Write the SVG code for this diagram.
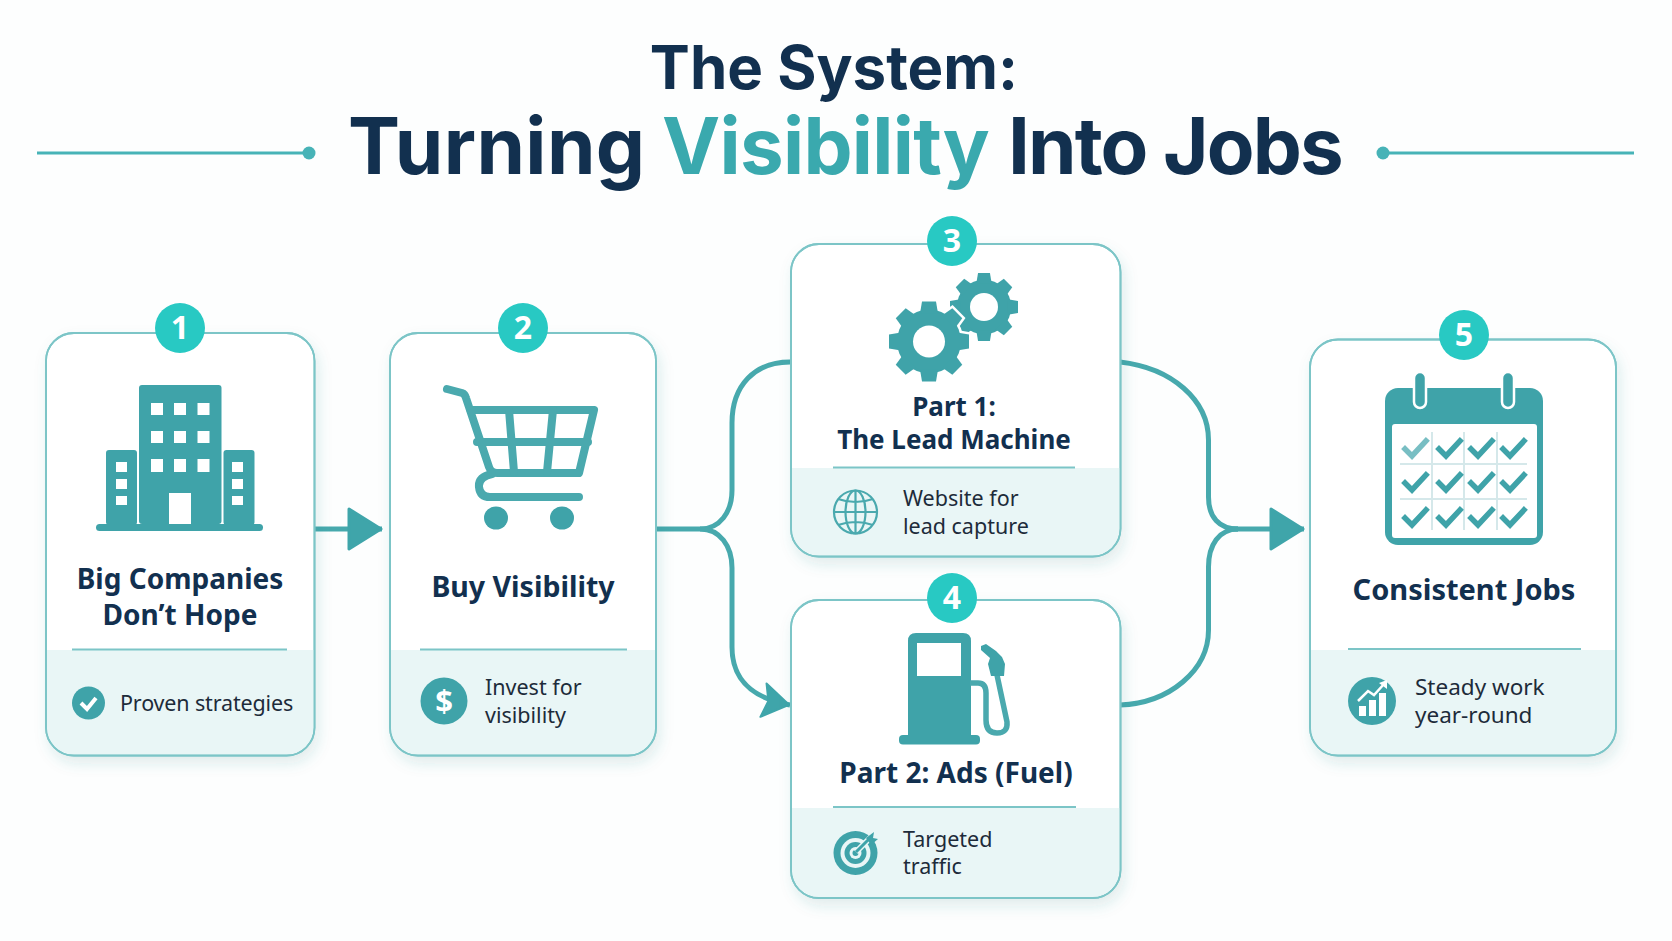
<svg xmlns="http://www.w3.org/2000/svg" width="1672" height="941" viewBox="0 0 1672 941">
<style>
.card{fill:#fff;stroke:#7cc5c7;stroke-width:1.8}
.panel{fill:#e9f6f6}
.div{stroke:#7cc5c7;stroke-width:2}
.badge{fill:#28c9c3}
.num{font:700 32px "Noto Sans",sans-serif;fill:#fff;text-anchor:middle}
.title{font:700 28px "Noto Sans",sans-serif;fill:#12304f;text-anchor:middle}
.sub{font:400 21.5px "Noto Sans",sans-serif;fill:#1d2b3a}
.head{font:700 78px Inter,sans-serif;fill:#12304f}
.ic{fill:#3fa3a9}
.w{fill:#fff}
.conn{fill:none;stroke:#47a9ad;stroke-width:5}
.rule{stroke:#47b3b7;stroke-width:3}
.cart{fill:none;stroke:#4aa9ae;stroke-width:8;stroke-linecap:round;stroke-linejoin:round}
.gl{fill:none;stroke:#4aa9ae;stroke-width:2.2}
.grid{stroke:#d5e8ea;stroke-width:2}
</style>
<defs>
<filter id="sh" x="-15%" y="-15%" width="130%" height="130%"><feDropShadow dx="3" dy="7" stdDeviation="7" flood-color="#2d7f85" flood-opacity=".14"/></filter>
<marker id="ah" markerUnits="userSpaceOnUse" markerWidth="38" markerHeight="46" viewBox="0 0 38 46" refX="36" refY="23" orient="auto"><path d="M3 3 L35 23 L3 43Z" fill="#3fa5aa" stroke="#3fa5aa" stroke-width="3" stroke-linejoin="round"/></marker>
<marker id="ahs" markerUnits="userSpaceOnUse" markerWidth="32" markerHeight="40" viewBox="0 0 32 40" refX="30" refY="20" orient="auto"><path d="M3 3 L29 20 L3 37 L8 20Z" fill="#3fa5aa" stroke="#3fa5aa" stroke-width="2" stroke-linejoin="round"/></marker>
<g id="teeth"><circle r="32"/><path d="M-9 -28 L-7 -40 H7 L9 -28Z"/><path d="M-9 -28 L-7 -40 H7 L9 -28Z" transform="rotate(45)"/><path d="M-9 -28 L-7 -40 H7 L9 -28Z" transform="rotate(90)"/><path d="M-9 -28 L-7 -40 H7 L9 -28Z" transform="rotate(135)"/><path d="M-9 -28 L-7 -40 H7 L9 -28Z" transform="rotate(180)"/><path d="M-9 -28 L-7 -40 H7 L9 -28Z" transform="rotate(225)"/><path d="M-9 -28 L-7 -40 H7 L9 -28Z" transform="rotate(270)"/><path d="M-9 -28 L-7 -40 H7 L9 -28Z" transform="rotate(315)"/></g>
<path id="chk" d="M-10 0 L-3 7 L11 -8" fill="none" stroke="#3fa3a9" stroke-width="5.5" stroke-linecap="square"/>
</defs>
<rect width="1672" height="941" fill="#fdfefe"/>

<g id="title">
<text class="head" y="89" x="834" text-anchor="middle" style="font-size:60px">The System:</text>
<text class="head" y="174"><tspan x="348" letter-spacing=".4">Turning</tspan> <tspan x="662" fill="#3aa9ae" letter-spacing="-.7">Visibility</tspan> <tspan x="1008" letter-spacing="-1.9">Into Jobs</tspan></text>
<line class="rule" x1="37" y1="153" x2="309" y2="153"/><circle cx="309" cy="153" r="6.5" fill="#47b3b7"/>
<line class="rule" x1="1383" y1="153" x2="1634" y2="153"/><circle cx="1383" cy="153" r="6.5" fill="#47b3b7"/>
</g>

<g id="connectors">
<path class="conn" d="M314 529 H382" marker-end="url(#ah)"/>
<path class="conn" d="M656 529 H700 C720 529 732 512 732 490 V423 C732 385 755 362 790 362"/>
<path class="conn" d="M700 529 C720 529 732 546 732 568 V647 C732 680 752 698 790 705" marker-end="url(#ahs)"/>
<path class="conn" d="M1120 362 C1172 368 1208.500 400 1208.500 440 V497 C1208.500 517 1219 529 1238 529"/>
<path class="conn" d="M1120 705 C1170 703 1208.500 670 1208.500 630 V567 C1208.500 545 1219 529 1238 529"/>
<path class="conn" d="M1233 529 H1304" marker-end="url(#ah)"/>
</g>

<g id="node1">
<rect class="card" x="46" y="333" width="268.500" height="422.500" rx="28" filter="url(#sh)"/>
<path class="panel" d="M47 650 H313.500 V727 A27 27 0 0 1 286.500 754.500 H74 A27 27 0 0 1 47 727Z"/>
<rect class="card" style="fill:none" x="46" y="333" width="268.500" height="422.500" rx="28"/>
<line class="div" x1="72" y1="649.500" x2="287" y2="649.500"/>
<circle class="badge" cx="180" cy="328" r="25"/><text class="num" x="180" y="339">1</text>
<g class="ic">
<rect x="139" y="385" width="82.500" height="139" rx="3"/><rect x="106" y="450" width="31" height="75" rx="3"/><rect x="223.500" y="450" width="31" height="75" rx="3"/><rect x="96" y="524" width="167" height="7" rx="3.500"/>
</g>
<g class="w">
<rect x="151" y="403" width="12" height="12"/><rect x="174" y="403" width="12" height="12"/><rect x="197.500" y="403" width="12" height="12"/>
<rect x="151" y="431" width="12" height="12"/><rect x="174" y="431" width="12" height="12"/><rect x="197.500" y="431" width="12" height="12"/>
<rect x="151" y="459" width="12" height="13"/><rect x="174" y="459" width="12" height="13"/><rect x="197.500" y="459" width="12" height="13"/>
<rect x="169" y="493" width="22" height="31"/>
<rect x="116" y="462" width="11" height="10"/><rect x="116" y="479" width="11" height="10"/><rect x="116" y="496" width="11" height="9"/>
<rect x="232" y="462" width="11" height="10"/><rect x="232" y="479" width="11" height="10"/><rect x="232" y="496" width="11" height="9"/>
</g>
<text class="title"><tspan x="180" y="589">Big Companies</tspan><tspan x="180" y="625">Don’t Hope</tspan></text>
<circle class="ic" cx="88.500" cy="703" r="16.500"/><path d="M81 703 L87 709 L96 698" fill="none" stroke="#fff" stroke-width="4"/>
<text class="sub" x="120" y="711" letter-spacing="-.15">Proven strategies</text>
</g>

<g id="node2">
<rect class="card" x="390" y="333" width="266" height="422.500" rx="28" filter="url(#sh)"/>
<path class="panel" d="M391 650 H655 V727 A27 27 0 0 1 628 754.500 H418 A27 27 0 0 1 391 727Z"/>
<rect class="card" style="fill:none" x="390" y="333" width="266" height="422.500" rx="28"/>
<line class="div" x1="420" y1="649.500" x2="627" y2="649.500"/>
<circle class="badge" cx="523" cy="328" r="25"/><text class="num" x="523" y="339">2</text>
<path class="cart" d="M447 389 L462 393 Q465 394 466 398 L489 467 Q491 473 497 473 H579 L594 410 H470"/>
<path class="cart" d="M509 410 L514 472 M553 410 L547 472 M477 442 H588 M492 474 Q478 477 479 487 Q480 497 490 497 H579"/>
<ellipse class="ic" cx="496" cy="518" rx="12" ry="11.500"/><ellipse class="ic" cx="562" cy="518" rx="12" ry="11.500"/>
<text class="title" x="523" y="597" style="font-size:28.500px">Buy Visibility</text>
<circle class="ic" cx="444" cy="701" r="23.500"/><text x="444" y="712" text-anchor="middle" style="font:700 31px 'Noto Sans',sans-serif;fill:#fff">$</text>
<text class="sub"><tspan x="485" y="695">Invest for</tspan><tspan x="485" y="723">visibility</tspan></text>
</g>

<g id="node3">
<rect class="card" x="791" y="244" width="329.500" height="312.500" rx="28" filter="url(#sh)"/>
<path class="panel" d="M792 468 H1119.500 V529 A27 27 0 0 1 1092.500 555.500 H819 A27 27 0 0 1 792 529Z"/>
<rect class="card" style="fill:none" x="791" y="244" width="329.500" height="312.500" rx="28"/>
<line class="div" x1="833" y1="467.500" x2="1075" y2="467.500"/>
<circle class="badge" cx="952" cy="241" r="25"/><text class="num" x="952" y="252">3</text>
<g class="ic" transform="translate(984 307) scale(.85)"><use href="#teeth"/></g>
<circle class="w" cx="984" cy="307" r="14"/>
<use href="#teeth" x="929" y="341.500" fill="#fff" stroke="#fff" stroke-width="5"/>
<use href="#teeth" x="929" y="341.500" class="ic"/>
<circle class="w" cx="929" cy="341.500" r="16"/>
<text class="title"><tspan x="954" y="416" style="font-size:26px">Part 1:</tspan><tspan x="954" y="449" style="font-size:26px">The Lead Machine</tspan></text>
<g class="gl"><circle cx="855.500" cy="512" r="21.500"/><ellipse cx="855.500" cy="512" rx="10" ry="21.500"/><path d="M855.500 490.500 V533.500 M834 512 H877 M838 499 Q855.500 505 873 499 M838 525 Q855.500 519 873 525"/></g>
<text class="sub"><tspan x="903" y="506">Website for</tspan><tspan x="903" y="534">lead capture</tspan></text>
</g>

<g id="node4">
<rect class="card" x="791" y="600" width="329.500" height="298" rx="28" filter="url(#sh)"/>
<path class="panel" d="M792 808 H1119.500 V870 A27 27 0 0 1 1092.500 897 H819 A27 27 0 0 1 792 870Z"/>
<rect class="card" style="fill:none" x="791" y="600" width="329.500" height="298" rx="28"/>
<line class="div" x1="833" y1="807" x2="1076" y2="807"/>
<circle class="badge" cx="952" cy="598" r="25"/><text class="num" x="952" y="609">4</text>
<path class="ic" fill-rule="evenodd" d="M916 633 H963 Q971 633 971 641 V735 H908 V641 Q908 633 916 633Z M917 643 V676 H961 V643Z"/>
<rect class="ic" x="899" y="735" width="81" height="9.500" rx="4"/>
<path d="M970 683 H978 Q986 683 986 693 V720 Q986 733 997 733 Q1008 733 1007 722 L997 675" fill="none" stroke="#4aa9ae" stroke-width="5.500"/>
<path class="ic" d="M981 646 L986 644 L996 651 L1002 657 L1005 664 L1004 676 L991 676 L988 664 L990 658 L981 650Z"/>
<text class="title" x="956" y="783">Part 2: Ads (Fuel)</text>
<circle class="ic" cx="855.500" cy="853" r="22"/><circle style="fill:#e9f6f6" cx="855.500" cy="853" r="15"/><circle class="ic" cx="855.500" cy="853" r="11"/><circle style="fill:#e9f6f6" cx="855.500" cy="853" r="6"/><circle class="ic" cx="855.500" cy="853" r="3"/>
<path d="M856 852 L872 836" stroke="#e9f6f6" stroke-width="6"/><path d="M856 852 L872 836" stroke="#3fa3a9" stroke-width="3"/><path class="ic" d="M866 838 L874 832 L873 838 L878 839 L871 845Z"/>
<text class="sub"><tspan x="903" y="847">Targeted</tspan><tspan x="903" y="874">traffic</tspan></text>
</g>

<g id="node5">
<rect class="card" x="1310" y="339.500" width="306" height="416" rx="28" filter="url(#sh)"/>
<path class="panel" d="M1311 650 H1615 V727 A27 27 0 0 1 1588 754.500 H1338 A27 27 0 0 1 1311 727Z"/>
<rect class="card" style="fill:none" x="1310" y="339.500" width="306" height="416" rx="28"/>
<line class="div" x1="1348" y1="649" x2="1581" y2="649"/>
<circle class="badge" cx="1464" cy="335" r="25"/><text class="num" x="1464" y="346">5</text>
<rect class="ic" x="1385" y="388" width="158" height="157" rx="13"/>
<rect class="w" x="1392" y="424" width="145" height="114" rx="3"/>
<rect class="ic" x="1414" y="372" width="12" height="36" rx="6" stroke="#fff" stroke-width="2.500"/>
<rect class="ic" x="1502" y="372" width="12" height="36" rx="6" stroke="#fff" stroke-width="2.500"/>
<path class="grid" d="M1432 432 V530 M1464 432 V530 M1497 432 V530 M1400 464 H1527 M1400 499 H1527"/>
<use href="#chk" x="1415" y="449" opacity=".7"/><use href="#chk" x="1449" y="449"/><use href="#chk" x="1481" y="449"/><use href="#chk" x="1513" y="449"/>
<use href="#chk" x="1415" y="483"/><use href="#chk" x="1449" y="483"/><use href="#chk" x="1481" y="483"/><use href="#chk" x="1513" y="483"/>
<use href="#chk" x="1415" y="518"/><use href="#chk" x="1449" y="518"/><use href="#chk" x="1481" y="518"/><use href="#chk" x="1513" y="518"/>
<text class="title" x="1464" y="600" style="font-size:29px">Consistent Jobs</text>
<circle class="ic" cx="1372" cy="701" r="24"/>
<path class="w" d="M1359 706 H1366 V716 H1359Z M1369 700 H1376 V716 H1369Z M1379 693 H1386 V716 H1379Z"/>
<path d="M1358 701 L1368 691 L1374 695 L1384 684" fill="none" stroke="#fff" stroke-width="2.500"/><path class="w" d="M1379 683 L1387 680 L1387 689Z"/>
<text class="sub" style="font-size:22.500px"><tspan x="1415" y="695">Steady work</tspan><tspan x="1415" y="723">year-round</tspan></text>
</g>
</svg>
